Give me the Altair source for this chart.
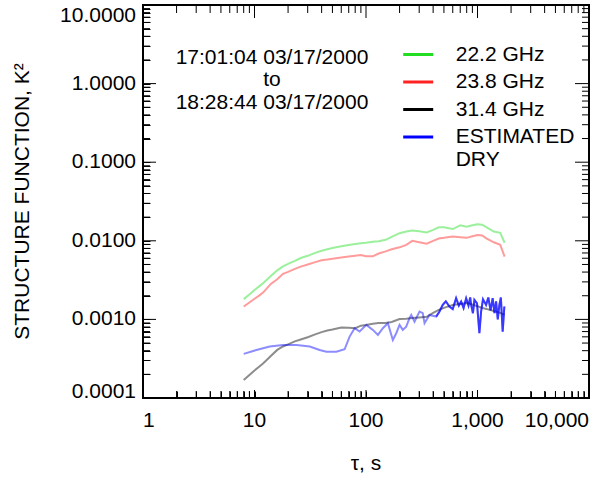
import altair as alt
import pandas as pd

# ---- data ----
SERIES = ["22.2 GHz", "23.8 GHz", "31.4 GHz", "ESTIMATED DRY"]
COLORS = ["#22dd22", "#ff2222", "#000000", "#0000ff"]

TAU = [8, 9, 10, 11, 12, 14, 16, 18, 20, 23, 26, 30, 35, 40, 45, 50, 60, 70, 80, 90,
       100, 115, 130, 150, 170, 200, 230, 260, 300, 350, 400, 450, 500, 600, 700, 800,
       900, 1000, 1100, 1200, 1400, 1600, 1750]

GREEN = [0.00181, 0.00207, 0.00236, 0.00263, 0.0029, 0.00357, 0.00421, 0.00472, 0.00509,
         0.00556, 0.00604, 0.00644, 0.00703, 0.00746, 0.0078, 0.0081, 0.00853, 0.00887,
         0.00908, 0.00929, 0.00944, 0.0097, 0.0099, 0.0103, 0.0112, 0.0125, 0.01312,
         0.01349, 0.0132, 0.01277, 0.0138, 0.01486, 0.0149, 0.0141, 0.01574, 0.01506,
         0.01574, 0.0162, 0.016, 0.0149, 0.0131, 0.01265, 0.00944]

RED = [0.00146, 0.00164, 0.00183, 0.00201, 0.00221, 0.00283, 0.00324, 0.0038, 0.00403,
       0.0044, 0.00469, 0.00499, 0.00536, 0.00566, 0.00579, 0.00593, 0.00612, 0.0063,
       0.00644, 0.00658, 0.00635, 0.00635, 0.00689, 0.00734, 0.0078, 0.00826, 0.00889,
       0.0100, 0.0096, 0.0092, 0.0100, 0.0107, 0.0109, 0.01135, 0.0111, 0.0109, 0.0114,
       0.01183, 0.0117, 0.01076, 0.00957, 0.00889, 0.0063]

BLACK = [0.000169, 0.000196, 0.000224, 0.00025, 0.000277, 0.000343, 0.000409, 0.000452,
         0.000481, 0.000525, 0.000556, 0.000593, 0.000644, 0.000689, 0.000724, 0.000746,
         0.000791, 0.000785, 0.000774, 0.000832, 0.000851, 0.000881, 0.000897, 0.000902,
         0.000929, 0.00101, 0.00102, 0.00104, 0.00106, 0.00108, 0.00121, 0.00132, 0.0014,
         0.00153, 0.00157, 0.00162, 0.00155, 0.00147, 0.0014, 0.00136, 0.00128, 0.00121,
         0.00114]

BLUE_TAU = [8.0, 10.4, 13.7, 18.0, 23.8, 31.3, 38.4, 44.1, 54.2, 64.3, 71.3, 79.1, 87.7,
            100.7, 115.3, 127.9, 141.6, 157.1, 174.1, 186.7, 200, 213.9, 229.5, 245.6,
            254.6, 272.3, 302, 323, 335, 371, 426, 455, 488, 520, 560, 600, 643, 680, 713,
            750, 791, 830, 860, 877, 910, 938, 990, 1040, 1077, 1120, 1194, 1250, 1310,
            1368, 1420, 1468, 1520, 1571, 1620, 1682, 1741]
BLUE = [0.000364, 0.000408, 0.000451, 0.000473, 0.000473, 0.000451, 0.000408, 0.000389,
        0.000389, 0.000417, 0.000604, 0.000773, 0.0007, 0.000851, 0.000735, 0.000635,
        0.000773, 0.000895, 0.000548, 0.000667, 0.000851, 0.000735, 0.000809, 0.001035,
        0.00114, 0.000937, 0.001256, 0.0012, 0.000895, 0.00114, 0.001086, 0.00125,
        0.00153, 0.0017, 0.00146, 0.00135, 0.00186, 0.0015, 0.00169, 0.0014, 0.00186,
        0.0015, 0.0019, 0.00153, 0.0012, 0.00177, 0.0016, 0.000667, 0.001256, 0.0018,
        0.00153, 0.0019, 0.0013, 0.00186, 0.0012, 0.0017, 0.0010, 0.00153, 0.0019,
        0.0007, 0.00146]

X_LABELS = [1, 10, 100, 1000, 10000]
X_LABEL_TEXT = ["1", "10", "100", "1,000", "10,000"]
Y_LABELS = [0.0001, 0.001, 0.01, 0.1, 1, 10]
Y_LABEL_TEXT = ["0.0001", "0.0010", "0.0100", "0.1000", "1.0000", "10.0000"]
X_MINOR = [m * 10 ** e for e in range(0, 4) for m in range(2, 10)]
Y_MINOR = [round(m * 10.0 ** e, 6) for e in range(-4, 1) for m in range(2, 10)]
X_TITLE = "τ, s"
Y_TITLE = "STRUCTURE FUNCTION, K²"
ANNOT = "17:01:04 03/17/2000\nto\n18:28:44 03/17/2000"

# ---- table ----
rows = []
for name, vals in zip(SERIES[:3], [GREEN, RED, BLACK]):
    for t, v in zip(TAU, vals):
        rows.append({"series": name, "tau": t, "value": v})
for t, v in zip(BLUE_TAU, BLUE):
    rows.append({"series": SERIES[3], "tau": t, "value": v})
df = pd.DataFrame(rows)

W, H = 446, 393
FONT = "Liberation Sans"
FS = 21
XMIN, XMAX, YMIN, YMAX = 1, 10000, 0.0001, 10
X_DECADES, Y_DECADES = 4, 5

xscale = alt.Scale(type="log", domain=[XMIN, XMAX], nice=False)
yscale = alt.Scale(type="log", domain=[YMIN, YMAX], nice=False)
XE = alt.X("tau:Q", scale=xscale, axis=None)
YE = alt.Y("value:Q", scale=yscale, axis=None)


def tick_only_axis(orient, values):
    # inward ticks (negative length given as an expression), no labels
    return alt.Axis(orient=orient, values=values, labels=False, domain=False,
                    grid=False, title=None, ticks=True, tickColor="black",
                    tickWidth=1, tickSize=alt.ExprRef("-7"))


def xticks(vals, length, edge):
    f = f"pow(10, {length} * {Y_DECADES} / {H})"
    a, b = (f"{YMIN}", f"{YMIN} * {f}") if edge == "bottom" else (f"{YMAX}", f"{YMAX} / {f}")
    return alt.Chart(pd.DataFrame({"tau": vals})).transform_calculate(
        p0=a, p1=b).transform_fold(["p0", "p1"], as_=["end", "value"]).mark_line(
        color="black", strokeWidth=1).encode(x=XE, y=YE, detail="tau:Q")


def yticks(vals, length, edge):
    f = f"pow(10, {length} * {X_DECADES} / {W})"
    a, b = (f"{XMIN}", f"{XMIN} * {f}") if edge == "left" else (f"{XMAX}", f"{XMAX} / {f}")
    return alt.Chart(pd.DataFrame({"value": vals})).transform_calculate(
        p0=a, p1=b).transform_fold(["p0", "p1"], as_=["end", "tau"]).mark_line(
        color="black", strokeWidth=1).encode(x=XE, y=YE, detail="value:Q")


def xlabels(vals, texts, align):
    return alt.Chart(pd.DataFrame({"tau": vals, "t": texts})).mark_text(
        font=FONT, fontSize=FS, color="black", align=align, baseline="middle"
    ).encode(x=XE, y=alt.value(416), text="t:N")


def ylabels(vals, texts, baseline):
    return alt.Chart(pd.DataFrame({"value": vals, "t": texts})).mark_text(
        font=FONT, fontSize=FS, color="black", align="right", baseline=baseline
    ).encode(y=YE, x=alt.value(-7), text="t:N")


main = alt.Chart(df).mark_line(strokeWidth=2, opacity=0.45).encode(
    x=alt.X("tau:Q", scale=xscale, axis=tick_only_axis("bottom", X_LABELS + X_MINOR)),
    y=alt.Y("value:Q", scale=yscale, axis=tick_only_axis("left", Y_LABELS + Y_MINOR)),
    color=alt.Color("series:N", scale=alt.Scale(domain=SERIES, range=COLORS),
                    legend=alt.Legend(orient="none", legendX=258.7, legendY=33,
                                      title=None, symbolType="stroke", symbolSize=900,
                                      symbolStrokeWidth=3, symbolOpacity=1,
                                      labelFont=FONT, labelFontSize=FS, labelOffset=21,
                                      labelColor="black", rowPadding=0.5, padding=0,
                                      labelLimit=300,
                                      labelExpr="datum.label == 'ESTIMATED DRY' ? ['ESTIMATED', 'DRY'] : datum.label")),
    order=alt.Order("tau:Q"),
)

dense = alt.Chart(df).mark_line(strokeWidth=2, opacity=0.6, color="#0000ff").encode(
    x=XE, y=YE, order=alt.Order("tau:Q"),
).transform_filter(f"datum.series == '{SERIES[3]}' && datum.tau >= 400")

tick_layers = [
    xticks(X_LABELS, 8, "bottom"), xticks(X_MINOR, 7, "bottom"),
    xticks(X_LABELS, 13, "top"), xticks(X_MINOR, 8, "top"),
    yticks(Y_LABELS, 13, "left"), yticks(Y_MINOR, 7, "left"),
    yticks(Y_LABELS, 14, "right"), yticks(Y_MINOR, 7, "right"),
]

label_layers = [
    xlabels(X_LABELS[:1], X_LABEL_TEXT[:1], "left"),
    xlabels(X_LABELS[1:-1], X_LABEL_TEXT[1:-1], "center"),
    xlabels(X_LABELS[-1:], X_LABEL_TEXT[-1:], "right"),
    ylabels(Y_LABELS[:1], Y_LABEL_TEXT[:1], "alphabetic"),
    ylabels(Y_LABELS[1:-1], Y_LABEL_TEXT[1:-1], "middle"),
    ylabels(Y_LABELS[-1:], Y_LABEL_TEXT[-1:], "top"),
]

titles = [
    alt.Chart(pd.DataFrame({"t": [X_TITLE]})).mark_text(
        font=FONT, fontSize=FS, color="black", align="center", baseline="middle"
    ).encode(text="t:N", x=alt.value(W / 2), y=alt.value(459)),
    alt.Chart(pd.DataFrame({"t": [Y_TITLE]})).mark_text(
        font=FONT, fontSize=FS, color="black", align="center", baseline="middle",
        angle=270
    ).encode(text="t:N", x=alt.value(-120), y=alt.value(H / 2)),
]

annot = alt.Chart(pd.DataFrame({"t": [ANNOT]})).mark_text(
    font=FONT, fontSize=FS, lineBreak="\n", lineHeight=22.5, align="center",
    baseline="middle", color="black"
).encode(text="t:N", x=alt.value(129), y=alt.value(52.5))

chart = alt.layer(main, dense, *tick_layers, *label_layers, *titles, annot).resolve_axis(
    x="independent", y="independent"
).properties(
    width=W, height=H,
    autosize=alt.AutoSizeParams(type="none"),
    padding={"left": 143, "top": 5, "right": 4, "bottom": 79},
    background="white",
).configure_view(stroke="black", strokeWidth=2)

chart.save("out.html", embed_options={"renderer": "svg", "actions": False})
